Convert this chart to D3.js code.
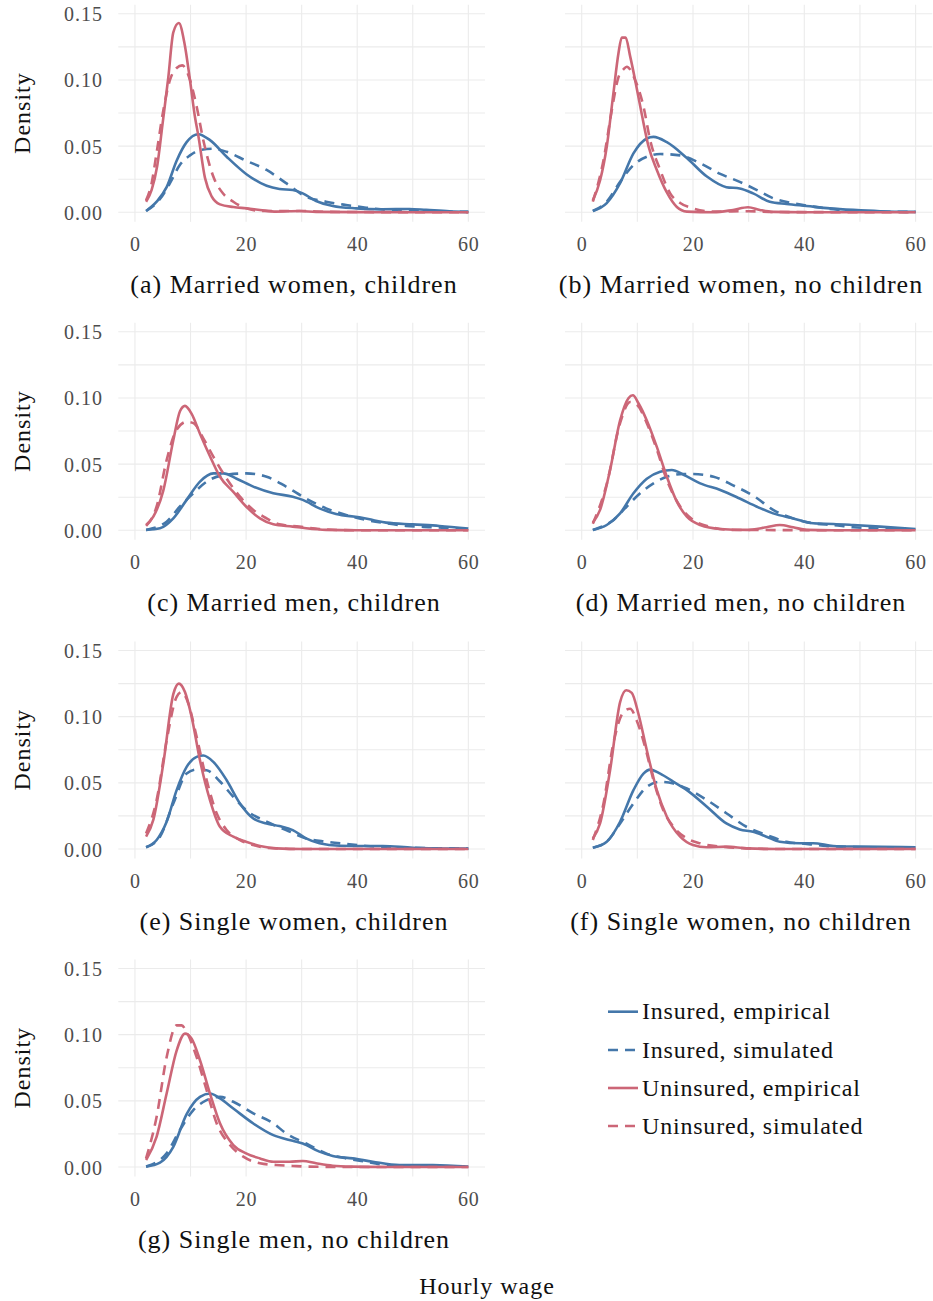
<!DOCTYPE html>
<html>
<head>
<meta charset="utf-8">
<script src="https://cdn.jsdelivr.net/npm/d3@7"></script>
<style>
  html, body { margin: 0; padding: 0; background: #fff; }
  svg { display: block; }
  text { font-family: "Liberation Serif", "DejaVu Serif", serif; }
</style>
</head>
<body>
<svg id="chart" width="933" height="1301"></svg>
<script>
// ---------------- data ----------------
const xTicks = [0, 20, 40, 60];
const yTicks = [0, 0.05, 0.10, 0.15];
const yTickLabels = ["0.00", "0.05", "0.10", "0.15"];
const seriesNames = ["Insured, empirical", "Insured, simulated", "Uninsured, empirical", "Uninsured, simulated"];
const panelTitles = [
  "(a) Married women, children",
  "(b) Married women, no children",
  "(c) Married men, children",
  "(d) Married men, no children",
  "(e) Single women, children",
  "(f) Single women, no children",
  "(g) Single men, no children"
];

// (a) Married women, children
const a_insEmp = [[2,0.001],[3.9,0.008],[5.7,0.019],[7.5,0.039],[9.3,0.053],[11.4,0.059],[13.5,0.0545],[16.5,0.042],[20,0.029],[23.7,0.020],[26,0.0176],[28.4,0.0168],[30.2,0.0143],[32.6,0.0085],[35.6,0.0048],[39.8,0.003],[44.6,0.0023],[49.4,0.0025],[52.4,0.0018],[56.6,0.0008],[60,0.0003]];
const a_insSim = [[2,0.001],[4.5,0.01],[6.3,0.022],[8.1,0.036],[9.9,0.043],[11.7,0.047],[14.1,0.048],[16.5,0.0457],[20,0.039],[23.7,0.032],[27.2,0.022],[30.8,0.0118],[34.4,0.008],[38,0.0055],[41.6,0.0035],[45.2,0.0018],[50,0.001],[60,0.0003]];
const a_unEmp = [[2,0.008],[3,0.017],[4,0.035],[5,0.068],[6,0.102],[6.9,0.136],[7.9,0.143],[8.9,0.128],[9.9,0.100],[10.8,0.072],[11.4,0.058],[12.6,0.026],[13.8,0.012],[15.3,0.006],[17.7,0.004],[20,0.003],[22.5,0.0018],[25.4,0.0005],[29.6,0.001],[32.6,0.0003],[40,0.0001],[60,0]];
const a_unSim = [[2,0.009],[3,0.022],[3.9,0.045],[5.1,0.077],[6.3,0.10],[7.5,0.109],[8.5,0.111],[9.3,0.107],[9.9,0.10],[11.1,0.08],[12.3,0.0545],[14.1,0.027],[15.9,0.014],[17.7,0.008],[20,0.003],[23,0.001],[30,0.001],[35,0.0003],[60,0]];

// (b) Married women, no children
const b_insEmp = [[2,0.001],[4.5,0.007],[6.9,0.022],[9.3,0.0445],[11.7,0.0558],[12.9,0.057],[15.3,0.053],[18.9,0.041],[22.5,0.027],[26,0.019],[28.4,0.018],[30.8,0.0143],[33.8,0.008],[36.8,0.0063],[40.4,0.0048],[44.6,0.003],[48.8,0.0018],[53.6,0.0008],[60,0.0003]];
const b_insSim = [[2,0.001],[4.5,0.008],[6.9,0.023],[9.3,0.0357],[11.7,0.042],[14.1,0.044],[17.7,0.043],[21.3,0.037],[24.9,0.029],[28.4,0.023],[31.4,0.017],[34.4,0.0106],[38,0.0068],[41.6,0.0043],[45.2,0.0023],[50,0.0008],[60,0.0003]];
const b_unEmp = [[2,0.009],[3.3,0.024],[4.5,0.0495],[5.7,0.09],[6.6,0.12],[7.2,0.132],[7.9,0.132],[8.7,0.118],[9.6,0.10],[10.8,0.074],[12,0.05],[13.5,0.032],[15.3,0.015],[17.1,0.004],[18.9,0.0005],[23.7,0],[27.2,0.0018],[29.9,0.0038],[32,0.0018],[34.4,0.0003],[40,0],[60,0]];
const b_unSim = [[2,0.008],[3.9,0.039],[5.4,0.077],[6.6,0.102],[7.5,0.108],[8.1,0.11],[9.6,0.10],[11.1,0.08],[12.3,0.0545],[14.1,0.032],[15.9,0.0143],[17.7,0.007],[20,0.003],[23.7,0.0005],[30,0.0008],[35,0.0002],[60,0]];

// (c) Married men, children
const c_insEmp = [[2,0.0003],[4.5,0.0015],[6.9,0.009],[9.3,0.023],[11.7,0.0368],[14.1,0.043],[15.9,0.043],[18.3,0.039],[21.3,0.033],[24.9,0.028],[28.4,0.0254],[30.2,0.023],[33.2,0.0166],[36.2,0.0123],[40.4,0.0098],[42.8,0.0078],[45.2,0.0058],[50,0.0045],[54.8,0.0033],[60,0.0013]];
const c_insSim = [[2,0.0003],[5.7,0.0065],[8.1,0.018],[10.5,0.028],[12.9,0.0368],[16.5,0.042],[20,0.043],[23.7,0.0405],[27.2,0.033],[30.8,0.024],[34.4,0.0166],[38,0.0116],[41.6,0.0078],[45.2,0.0053],[48.8,0.0033],[53.6,0.0023],[60,0.0008]];
const c_unEmp = [[2,0.004],[3.3,0.0103],[5.1,0.030],[6.9,0.068],[8.1,0.090],[9,0.094],[10.2,0.088],[11.7,0.073],[13.5,0.056],[15.3,0.0405],[17.7,0.029],[20,0.018],[22.5,0.009],[24.9,0.0045],[28.4,0.0028],[30.8,0.0015],[34.4,0.0003],[40,0],[60,0]];
const c_unSim = [[2,0.0033],[3.9,0.018],[5.7,0.053],[7.5,0.076],[9.3,0.082],[10.5,0.081],[12.3,0.0695],[14.1,0.0557],[16.5,0.039],[18.9,0.0254],[21.3,0.0154],[23.7,0.009],[26,0.0045],[29.6,0.0028],[33.2,0.001],[40,0],[60,0]];

// (d) Married men, no children
const d_insEmp = [[2,0.0003],[4.5,0.004],[6.9,0.0128],[9.3,0.028],[11.7,0.039],[14.1,0.0443],[16.2,0.0456],[18.3,0.042],[21.3,0.0355],[24.9,0.0305],[28.4,0.024],[31.4,0.018],[34.4,0.0128],[38,0.009],[41.6,0.0053],[45.2,0.0048],[48.8,0.004],[53.6,0.0028],[60,0.001]];
const d_insSim = [[2,0.0003],[5.7,0.0078],[8.1,0.018],[10.5,0.028],[12.9,0.0355],[15.3,0.0405],[18.3,0.0425],[20,0.0425],[23.7,0.0405],[27.2,0.034],[31.1,0.0254],[34.4,0.0154],[38,0.009],[41.6,0.0053],[45.2,0.004],[48.8,0.0023],[53.6,0.0013],[60,0.0005]];
const d_unEmp = [[2,0.0058],[3.3,0.0154],[5.1,0.0456],[6.9,0.083],[8.4,0.0998],[9.2,0.102],[10.2,0.096],[11.7,0.083],[13.5,0.063],[15.3,0.0405],[17.1,0.0217],[18.9,0.0103],[21.3,0.004],[24.9,0.001],[29.6,0.0003],[33.2,0.0023],[35.6,0.004],[38,0.0023],[40.4,0.0003],[45,0],[60,0]];
const d_unSim = [[2,0.005],[4.5,0.035],[6.9,0.081],[8.7,0.097],[9.9,0.095],[11.7,0.081],[13.5,0.061],[15.3,0.038],[17.7,0.018],[20,0.0078],[23.7,0.002],[27,0.0003],[40,0.0001],[60,0]];

// (e) Single women, children
const e_insEmp = [[2,0.0013],[3.9,0.0068],[5.7,0.0206],[7.5,0.0445],[9.3,0.062],[11.1,0.0696],[12.3,0.0706],[14.1,0.0658],[16.5,0.052],[18.9,0.0344],[21.3,0.023],[23.7,0.0193],[26,0.0173],[28.4,0.0143],[30.8,0.008],[33.2,0.0043],[36.8,0.0025],[41.6,0.0023],[44.6,0.0023],[50,0.001],[60,0.0003]];
const e_insSim = [[2,0.0013],[4.5,0.0093],[6.9,0.0344],[9.3,0.057],[11.1,0.06],[12.9,0.0595],[15.3,0.051],[17.7,0.0394],[20,0.0294],[23.7,0.0206],[27.2,0.0143],[30.8,0.008],[34.4,0.0055],[38,0.0038],[41.6,0.0023],[47,0.0013],[60,0.0003]];
const e_unEmp = [[2,0.0093],[3.3,0.022],[5.1,0.0646],[6.9,0.117],[7.9,0.125],[9,0.1186],[10.2,0.0998],[11.7,0.067],[13.5,0.037],[15.3,0.0168],[17.7,0.0093],[20,0.0055],[22.5,0.0023],[25.4,0.0005],[30,0],[60,0]];
const e_unSim = [[2,0.0118],[3.9,0.037],[5.7,0.082],[7.5,0.115],[8.4,0.1186],[9.6,0.11],[11.1,0.0847],[12.9,0.052],[14.7,0.027],[16.5,0.0143],[18.9,0.0068],[21.3,0.003],[24,0.0008],[30,0],[60,0]];

// (f) Single women, no children
const f_insEmp = [[2,0.001],[4.5,0.0055],[6.9,0.0206],[9.3,0.0445],[11.1,0.057],[12.3,0.06],[14.1,0.057],[16.5,0.0508],[18.9,0.0445],[22.5,0.032],[26,0.0193],[28.4,0.0148],[30.8,0.013],[33.2,0.0093],[35.6,0.0055],[39.2,0.0043],[41.6,0.0043],[45.2,0.0023],[50,0.0018],[60,0.0013]];
const f_insSim = [[2,0.001],[4.5,0.0055],[6.9,0.0193],[9.3,0.0344],[11.7,0.047],[14.1,0.0508],[16.5,0.0495],[18.9,0.0457],[22.5,0.037],[26,0.027],[29.6,0.0168],[33.2,0.0106],[36.8,0.0055],[40.4,0.0038],[44,0.0023],[50,0.0013],[60,0.0005]];
const f_unEmp = [[2,0.008],[3.3,0.0193],[5.1,0.0595],[6.9,0.111],[8,0.120],[9,0.118],[10.2,0.102],[11.7,0.0746],[13.5,0.0445],[15.3,0.0244],[17.7,0.0093],[20,0.003],[22.5,0.0013],[26,0.0018],[29.6,0.0005],[35,0],[60,0]];
const f_unSim = [[2,0.0068],[3.9,0.034],[5.7,0.08],[7.5,0.1035],[8.7,0.106],[9.9,0.097],[11.4,0.077],[12.9,0.052],[14.7,0.029],[16.5,0.0168],[18.9,0.008],[21.3,0.0043],[24.9,0.0018],[29.6,0.0005],[35,0],[60,0]];

// (g) Single men, no children
const g_insEmp = [[2,0.0003],[4.5,0.0033],[6.9,0.0153],[9.3,0.040],[11.7,0.053],[13.5,0.0555],[15.3,0.0518],[17.7,0.0442],[21.3,0.0329],[24.9,0.0241],[28.4,0.0198],[30.2,0.0178],[33.2,0.0116],[35.6,0.0083],[39.2,0.0065],[42.8,0.004],[47.6,0.0015],[53.6,0.0015],[60,0.0003]];
const g_insSim = [[2,0.0003],[5.7,0.0103],[8.1,0.028],[10.5,0.043],[12.9,0.0505],[15.3,0.053],[17.7,0.0493],[21.3,0.0405],[24.9,0.033],[27.2,0.0254],[30.8,0.0178],[34.4,0.0103],[38,0.0065],[41.6,0.004],[45.2,0.0015],[50,0.0008],[60,0.0003]];
const g_unEmp = [[2,0.0053],[3.9,0.023],[5.7,0.0555],[7.5,0.088],[9,0.1008],[10.2,0.097],[11.7,0.0807],[13.5,0.0555],[15.3,0.033],[17.7,0.0166],[20,0.0103],[22.5,0.0065],[24.9,0.004],[27.8,0.004],[30.2,0.0045],[32.6,0.0028],[35.6,0.001],[39,0.0003],[45,0],[60,0]];
const g_unSim = [[2,0.0065],[3.9,0.038],[5.7,0.083],[7.5,0.107],[8.4,0.107],[9.3,0.102],[11.1,0.083],[12.9,0.058],[14.7,0.033],[17.1,0.0166],[19.5,0.0078],[22.5,0.0028],[25.4,0.0015],[28.4,0.0008],[31,0.0003],[40,0],[60,0]];

const panelSeries = [
  [a_insEmp, a_insSim, a_unEmp, a_unSim],
  [b_insEmp, b_insSim, b_unEmp, b_unSim],
  [c_insEmp, c_insSim, c_unEmp, c_unSim],
  [d_insEmp, d_insSim, d_unEmp, d_unSim],
  [e_insEmp, e_insSim, e_unEmp, e_unSim],
  [f_insEmp, f_insSim, f_unEmp, f_unSim],
  [g_insEmp, g_insSim, g_unEmp, g_unSim]
];

// ---------------- styles / layout ----------------
const seriesColor = ["#4477AA", "#4477AA", "#CC6677", "#CC6677"];
const seriesDash  = [null, "10,7", null, "10,7"];
const gridColor = "#ebebeb";
const tickColor = "#4d4d4d";
const lineWidth = 2.6;

const colRanges = [[118.3, 485], [565, 932.3]];
const rowZero = [212.3, 530.3, 849, 1167];
const pxPerUnit = 198.5 / 0.15;
const xDomain = [-3, 63];
const yDomain = [-0.0072, 0.1568];

const svg = d3.select("#chart");

panelSeries.forEach((series, i) => {
  const col = i % 2, row = Math.floor(i / 2);
  const y0 = rowZero[row];
  const x = d3.scaleLinear().domain(xDomain).range(colRanges[col]);
  const y = d3.scaleLinear().domain(yDomain)
    .range([y0 - yDomain[0] * pxPerUnit, y0 - yDomain[1] * pxPerUnit]);
  const g = svg.append("g");

  // grid (major + minor)
  const xGrid = d3.range(0, 61, 10);
  const yGrid = d3.range(0, 0.1501, 0.025);
  g.selectAll("line.vg").data(xGrid).join("line")
    .attr("x1", d => x(d)).attr("x2", d => x(d))
    .attr("y1", y(yDomain[1])).attr("y2", y(yDomain[0]))
    .attr("stroke", gridColor).attr("stroke-width", 1.1);
  g.selectAll("line.hg").data(yGrid).join("line")
    .attr("x1", x(xDomain[0])).attr("x2", x(xDomain[1]))
    .attr("y1", d => y(d)).attr("y2", d => y(d))
    .attr("stroke", gridColor).attr("stroke-width", 1.1);

  // x axis tick labels
  const xAxis = d3.axisBottom(x).tickValues(xTicks).tickSize(0).tickPadding(0).tickFormat(d3.format("d"));
  const xa = g.append("g").attr("transform", `translate(0,${y0 + 39})`).call(xAxis);
  xa.select(".domain").remove();
  xa.selectAll("text").attr("font-size", 20).attr("fill", tickColor)
    .attr("font-family", '"Liberation Serif", serif').attr("letter-spacing", 0.8).attr("dy", 0);

  // y axis tick labels (left column only)
  if (col === 0) {
    const yAxis = d3.axisLeft(y).tickValues(yTicks).tickSize(0).tickPadding(0)
      .tickFormat((d, k) => yTickLabels[k]);
    const ya = g.append("g").attr("transform", `translate(103,0)`).call(yAxis);
    ya.select(".domain").remove();
    ya.selectAll("text").attr("font-size", 20).attr("fill", tickColor)
      .attr("font-family", '"Liberation Serif", serif').attr("letter-spacing", 1).attr("dy", "0.35em");
    g.append("text")
      .attr("transform", `translate(30,${y(0.075)}) rotate(-90)`)
      .attr("text-anchor", "middle")
      .attr("font-size", 24).attr("letter-spacing", 1).attr("fill", "#111")
      .text("Density");
  }

  // lines
  const line = d3.line().x(d => x(d[0])).y(d => y(d[1])).curve(d3.curveMonotoneX);
  series.forEach((s, k) => {
    g.append("path").datum(s)
      .attr("d", line)
      .attr("fill", "none")
      .attr("stroke", seriesColor[k])
      .attr("stroke-width", lineWidth)
      .attr("stroke-dasharray", seriesDash[k])
      .attr("stroke-linejoin", "round");
  });

  // caption
  svg.append("text")
    .attr("x", col === 0 ? 294 : 741)
    .attr("y", y0 + 81)
    .attr("text-anchor", "middle")
    .attr("font-size", 26).attr("letter-spacing", 1).attr("fill", "#111")
    .text(panelTitles[i]);
});

// legend
const legendY = [1011.7, 1050, 1088, 1126];
const lg = svg.append("g");
seriesNames.forEach((name, k) => {
  lg.append("line")
    .attr("x1", 608).attr("x2", 638)
    .attr("y1", legendY[k]).attr("y2", legendY[k])
    .attr("stroke", seriesColor[k]).attr("stroke-width", lineWidth)
    .attr("stroke-dasharray", seriesDash[k] ? "10,7" : null);
  lg.append("text")
    .attr("x", 642).attr("y", legendY[k] + 7.5)
    .attr("font-size", 24).attr("letter-spacing", 0.8).attr("fill", "#111")
    .text(name);
});

// shared x-axis title
svg.append("text")
  .attr("x", 487).attr("y", 1294)
  .attr("text-anchor", "middle")
  .attr("font-size", 24).attr("letter-spacing", 1).attr("fill", "#111")
  .text("Hourly wage");
</script>
</body>
</html>
